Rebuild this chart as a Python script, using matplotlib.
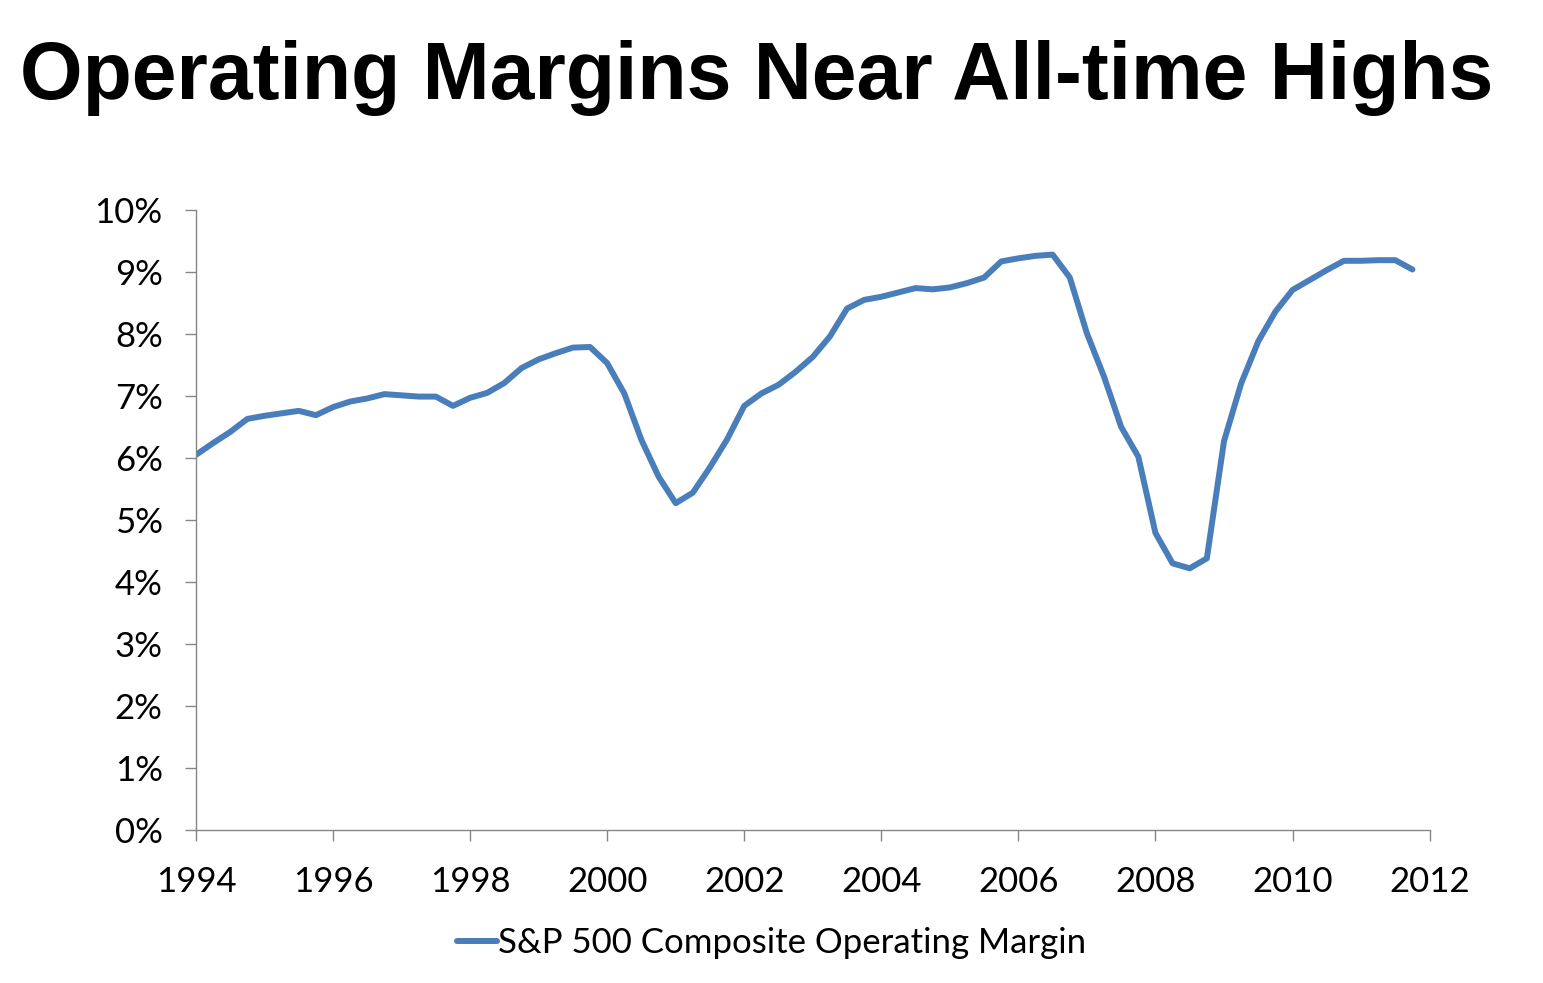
import numpy as np
import matplotlib.pyplot as plt
from matplotlib.ticker import FuncFormatter

# quarterly S&P 500 operating margin, %, 1994Q1 - 2011Q4
start_year = 1994
margin = [
    6.05, 6.24, 6.42, 6.63,   # 1994
    6.68, 6.72, 6.76, 6.69,   # 1995
    6.82, 6.91, 6.96, 7.03,   # 1996
    7.01, 6.99, 6.99, 6.84,   # 1997
    6.97, 7.05, 7.21, 7.45,   # 1998
    7.59, 7.69, 7.78, 7.79,   # 1999
    7.53, 7.04, 6.29, 5.70,   # 2000
    5.27, 5.44, 5.85, 6.30,   # 2001
    6.84, 7.04, 7.18, 7.39,   # 2002
    7.63, 7.96, 8.41, 8.55,   # 2003
    8.60, 8.67, 8.74, 8.72,   # 2004
    8.75, 8.82, 8.91, 9.17,   # 2005
    9.22, 9.26, 9.28, 8.91,   # 2006
    8.01, 7.31, 6.50, 6.02,   # 2007
    4.79, 4.30, 4.22, 4.38,   # 2008
    6.27, 7.20, 7.88, 8.36,   # 2009
    8.71, 8.87, 9.03, 9.18,   # 2010
    9.18, 9.19, 9.19, 9.04,   # 2011
]
quarters = start_year + np.arange(len(margin)) / 4.0

x_ticks = [1994, 1996, 1998, 2000, 2002, 2004, 2006, 2008, 2010, 2012]
y_ticks = [0, 1, 2, 3, 4, 5, 6, 7, 8, 9, 10]

fig = plt.figure(figsize=(15.43, 9.83), dpi=100)
ax = fig.add_axes([0.127, 0.1557, 0.7995, 0.6307])

ax.plot(quarters, margin, color='#4a7ebb', lw=4.3, solid_joinstyle='round',
        solid_capstyle='round', label='S&P 500 Composite Operating Margin')

ax.set_xlim(1994, 2012)
ax.set_ylim(0, 10)
ax.set_xticks(x_ticks)
ax.set_yticks(y_ticks)
ax.yaxis.set_major_formatter(FuncFormatter(lambda v, p: '%d%%' % v))

for s in ['top', 'right']:
    ax.spines[s].set_visible(False)
for s in ['left', 'bottom']:
    ax.spines[s].set_color('#868686')
    ax.spines[s].set_linewidth(1.0)
ax.tick_params(axis='both', colors='#868686', length=8, width=1.0,
               labelcolor='black', labelsize=25)
ax.tick_params(axis='x', pad=18)
ax.tick_params(axis='y', pad=16)
for lab in ax.get_xticklabels() + ax.get_yticklabels():
    lab.set_family('Lato')

fig.text(0.4906, 0.921, 'Operating Margins Near All-time Highs', ha='center', va='center',
         fontsize=58, fontweight='bold', family='Liberation Sans')

leg = fig.legend(loc='center', bbox_to_anchor=(0.5, 0.041), frameon=False,
                 prop={'family': 'Lato', 'size': 25}, handlelength=1.15, handletextpad=0.05)

fig.savefig('out.png', dpi=100)
